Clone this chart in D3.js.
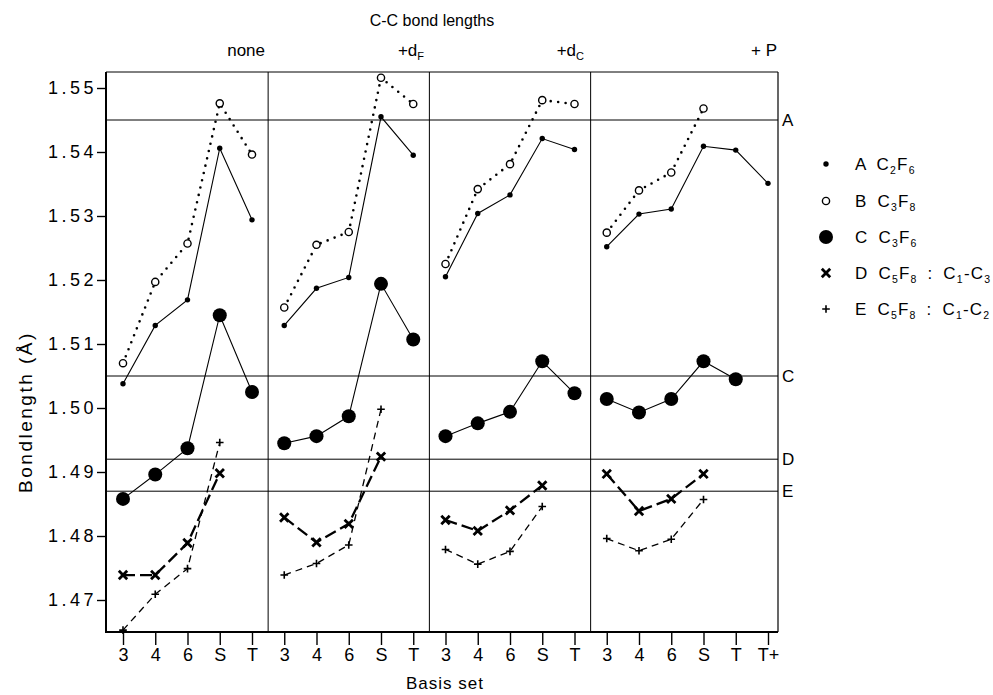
<!DOCTYPE html>
<html lang="en">
<head>
<meta charset="UTF-8">
<script src="https://d3js.org/d3.v7.min.js"></script>
<title>C-C bond lengths</title>
<style>
  body { margin: 0; background: #fff; }
  svg { display: block; font-family: "Liberation Sans", Arial, sans-serif; }
  .tick text { font-family: "Liberation Sans", Arial, sans-serif; }
</style>
</head>
<body>
<div id="chart"></div>
<script>
// basis set labels along the x axis (4 panels)
const xLabels = ["3","4","6","S","T", "3","4","6","S","T", "3","4","6","S","T", "3","4","6","S","T","T+"];
const panelStart = [0, 5, 10, 15];
const yTicks = [1.47, 1.48, 1.49, 1.50, 1.51, 1.52, 1.53, 1.54, 1.55];

// reference lines on the right
const refValues = [1.545, 1.505, 1.492, 1.487];
const refLabels = ["A", "C", "D", "E"];

// series values per panel: none, +dF, +dC, +P
const seriesA = [
  [1.5038, 1.5129, 1.5169, 1.5406, 1.5294],
  [1.5129, 1.5187, 1.5204, 1.5455, 1.5395],
  [1.5205, 1.5304, 1.5333, 1.5421, 1.5404],
  [1.5252, 1.5303, 1.5311, 1.5409, 1.5403, 1.5351]
];
const seriesB = [
  [1.5070, 1.5197, 1.5257, 1.5476, 1.5396],
  [1.5157, 1.5255, 1.5275, 1.5516, 1.5475],
  [1.5225, 1.5342, 1.5381, 1.5481, 1.5475],
  [1.5274, 1.5340, 1.5368, 1.5468]
];
const seriesC = [
  [1.4858, 1.4896, 1.4937, 1.5145, 1.5025],
  [1.4945, 1.4956, 1.4987, 1.5194, 1.5107],
  [1.4956, 1.4976, 1.4994, 1.5073, 1.5023],
  [1.5014, 1.4993, 1.5014, 1.5073, 1.5045]
];
const seriesD = [
  [1.4739, 1.4739, 1.4789, 1.4898],
  [1.4829, 1.4790, 1.4819, 1.4924],
  [1.4825, 1.4808, 1.4840, 1.4879],
  [1.4897, 1.4839, 1.4858, 1.4897]
];
const seriesE = [
  [1.4653, 1.4709, 1.4749, 1.4946],
  [1.4739, 1.4757, 1.4786, 1.4998],
  [1.4779, 1.4756, 1.4776, 1.4846],
  [1.4796, 1.4777, 1.4795, 1.4857]
];

const width = 993, height = 695;
const svg = d3.select("#chart").append("svg")
  .attr("width", width).attr("height", height);

const x = d3.scalePoint().domain(d3.range(xLabels.length)).range([123, 768]);
const y = d3.scaleLinear().domain([1.47, 1.55]).range([600, 88]);

const fLeft = 106, fRight = 778, fTop = 72, fBottom = 632;

// frame
svg.append("line").attr("x1", fLeft).attr("x2", fRight).attr("y1", fTop).attr("y2", fTop)
  .attr("stroke", "#000").attr("stroke-width", 1);
svg.append("line").attr("x1", fRight).attr("x2", fRight).attr("y1", fTop).attr("y2", fBottom)
  .attr("stroke", "#000").attr("stroke-width", 1.2);
svg.append("line").attr("x1", fLeft).attr("x2", fLeft).attr("y1", fTop).attr("y2", fBottom + 1)
  .attr("stroke", "#000").attr("stroke-width", 2);
svg.append("line").attr("x1", fLeft - 1).attr("x2", fRight).attr("y1", fBottom).attr("y2", fBottom)
  .attr("stroke", "#000").attr("stroke-width", 2);

// panel dividers
[1, 2, 3].forEach(p => {
  const xd = (x(panelStart[p] - 1) + x(panelStart[p])) / 2;
  svg.append("line").attr("x1", xd).attr("x2", xd).attr("y1", fTop).attr("y2", fBottom)
    .attr("stroke", "#000").attr("stroke-width", 1);
});

// reference lines
refValues.forEach((v, i) => {
  svg.append("line").attr("x1", fLeft).attr("x2", fRight).attr("y1", y(v)).attr("y2", y(v))
    .attr("stroke", "#000").attr("stroke-width", 1);
  svg.append("text").attr("x", fRight + 4).attr("y", y(v)).attr("dy", "0.35em")
    .attr("font-size", 17).text(refLabels[i]);
});

// axes
const yAxis = svg.append("g").attr("transform", `translate(${fLeft},0)`)
  .call(d3.axisLeft(y).tickValues(yTicks).tickFormat(d3.format(".2f")).tickSize(9).tickPadding(0));
yAxis.select(".domain").remove();
yAxis.selectAll(".tick line").attr("stroke-width", 1.4);
yAxis.selectAll(".tick text").attr("font-size", 18).attr("letter-spacing", 3.5).attr("fill", "#000");

const xAxis = svg.append("g").attr("transform", `translate(0,${fBottom})`)
  .call(d3.axisBottom(x).tickFormat(i => xLabels[i]).tickSize(13).tickPadding(3));
xAxis.select(".domain").remove();
xAxis.selectAll(".tick line").attr("stroke-width", 1.4);
xAxis.selectAll(".tick text").attr("font-size", 18).attr("fill", "#000");

// titles
svg.append("text").attr("x", 432).attr("y", 26).attr("text-anchor", "middle")
  .attr("font-size", 16).text("C-C bond lengths");
svg.append("text").attr("x", 445).attr("y", 689).attr("text-anchor", "middle")
  .attr("font-size", 17).attr("letter-spacing", 1).text("Basis set");
svg.append("text").attr("transform", "translate(32,412) rotate(-90)").attr("text-anchor", "middle")
  .attr("font-size", 19).attr("letter-spacing", 2.5).text("Bondlength  (Å)");

// panel labels
function subLabel(g, main, sub) {
  g.append("tspan").text(main);
  if (sub) g.append("tspan").attr("font-size", 11).attr("dy", 4).text(sub);
}
const panelLabelX = [265, 424, 584, 777];
const panelLabels = [["none", ""], ["+d", "F"], ["+d", "C"], ["+ P", ""]];
panelLabels.forEach((pl, i) => {
  const t = svg.append("text").attr("x", panelLabelX[i]).attr("y", 56)
    .attr("text-anchor", "end").attr("font-size", 17);
  subLabel(t, pl[0], pl[1]);
});

// series drawing
const styles = {
  A: { data: seriesA, width: 1.1, dash: null, cap: "butt" },
  B: { data: seriesB, width: 2.6, dash: "0,7.5", cap: "round" },
  C: { data: seriesC, width: 1.1, dash: null, cap: "butt" },
  D: { data: seriesD, width: 2.3, dash: "12,5", cap: "butt" },
  E: { data: seriesE, width: 1.3, dash: "7,5", cap: "butt" }
};

function marker(g, key, cx, cy) {
  if (key === "A") {
    g.append("circle").attr("cx", cx).attr("cy", cy).attr("r", 2.7).attr("fill", "#000");
  } else if (key === "B") {
    g.append("circle").attr("cx", cx).attr("cy", cy).attr("r", 3.6)
      .attr("fill", "#fff").attr("stroke", "#000").attr("stroke-width", 1.4);
  } else if (key === "C") {
    g.append("circle").attr("cx", cx).attr("cy", cy).attr("r", 7).attr("fill", "#000");
  } else if (key === "D") {
    const s = 4.2;
    g.append("path").attr("d", `M${cx - s},${cy - s}L${cx + s},${cy + s}M${cx - s},${cy + s}L${cx + s},${cy - s}`)
      .attr("stroke", "#000").attr("stroke-width", 2.8);
  } else if (key === "E") {
    const s = 3.8;
    g.append("path").attr("d", `M${cx - s},${cy}L${cx + s},${cy}M${cx},${cy - s}L${cx},${cy + s}`)
      .attr("stroke", "#000").attr("stroke-width", 1.6);
  }
}

const plot = svg.append("g");
Object.keys(styles).forEach(key => {
  const st = styles[key];
  st.data.forEach((vals, p) => {
    const pts = vals.map((v, j) => [x(panelStart[p] + j), y(v)]);
    plot.append("path").attr("d", d3.line()(pts))
      .attr("fill", "none").attr("stroke", "#000")
      .attr("stroke-width", st.width)
      .attr("stroke-dasharray", st.dash)
      .attr("stroke-linecap", st.cap);
    pts.forEach(pt => marker(plot, key, pt[0], pt[1]));
  });
});

// legend
const legendRows = [
  ["A", [["A C", ""], ["2", "s"], ["F", ""], ["6", "s"]]],
  ["B", [["B C", ""], ["3", "s"], ["F", ""], ["8", "s"]]],
  ["C", [["C C", ""], ["3", "s"], ["F", ""], ["6", "s"]]],
  ["D", [["D C", ""], ["5", "s"], ["F", ""], ["8", "s"], [" : C", ""], ["1", "s"], ["-C", ""], ["3", "s"]]],
  ["E", [["E C", ""], ["5", "s"], ["F", ""], ["8", "s"], [" : C", ""], ["1", "s"], ["-C", ""], ["2", "s"]]]
];
const legendY = [164, 201, 237, 273, 309];
legendRows.forEach((row, i) => {
  const ly = legendY[i];
  const g = svg.append("g");
  marker(g, row[0], 826, ly);
  const t = g.append("text").attr("x", 855).attr("y", ly + 6).attr("font-size", 17)
    .attr("letter-spacing", 1.2).attr("word-spacing", 4);
  let shifted = false;
  row[1].forEach(part => {
    const ts = t.append("tspan").text(part[0]);
    if (part[1] === "s") {
      ts.attr("font-size", 10.5).attr("dy", shifted ? 0 : 4);
      shifted = true;
    } else {
      if (shifted) ts.attr("dy", -4);
      shifted = false;
    }
  });
});
</script>
</body>
</html>
